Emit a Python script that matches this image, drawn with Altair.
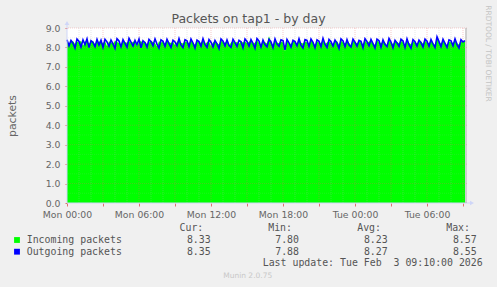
import altair as alt
import pandas as pd

# ---------------- data ----------------
start_hour = 0.0          # Mon 00:00
step_hours = 1.0 / 6.0    # 10 minute samples
x_end_hour = 33.333

incoming = [
    8.31, 8.22, 8.27, 8.33, 8.18, 8.30, 8.25, 8.34, 8.09, 8.29, 8.32, 8.20, 8.28, 8.35, 8.16, 8.24, 8.31, 8.27, 8.21, 8.33, 8.06, 8.30, 8.26, 8.19, 8.34, 8.28, 8.23, 8.12, 8.32, 8.27,
    8.24, 8.36, 8.20, 8.29, 8.31, 8.08, 8.27, 8.33, 8.22, 8.30, 8.17, 8.25, 8.34, 8.28, 8.21, 8.05, 8.32, 8.26, 8.30, 8.19, 8.35, 8.27, 8.23, 8.31, 8.11, 8.29, 8.33, 8.24, 8.20, 8.30,
    8.28, 8.21, 8.35, 8.26, 8.14, 8.31, 8.29, 8.23, 8.37, 8.18, 8.27, 8.32, 8.07, 8.25, 8.30, 8.22, 8.16, 8.34, 8.28, 8.24, 8.31, 8.10, 8.26, 8.33, 8.21, 8.29, 8.19, 8.32, 8.25, 8.30,
    8.22, 8.29, 8.33, 8.17, 8.26, 8.36, 8.24, 8.13, 8.31, 8.27, 8.20, 8.57, 8.28, 8.09, 8.33, 8.25, 8.21, 8.30, 8.26, 7.80, 8.32, 8.23, 8.18, 8.29, 8.34, 8.15, 8.37, 8.24, 8.20, 8.31,
    8.27, 8.19, 8.34, 8.28, 8.12, 8.30, 8.25, 8.22, 8.40, 8.18, 8.26, 8.32, 8.21, 8.08, 8.29, 8.33, 8.15, 8.35, 8.27, 8.20, 8.31, 8.24, 8.11, 8.33, 8.28, 8.22, 8.30, 8.25, 8.17, 8.36,
    8.23, 8.30, 8.32, 8.19, 8.14, 8.34, 8.29, 8.21, 8.31, 8.26, 8.10, 8.37, 8.24, 8.18, 8.30, 8.28, 8.22, 8.33, 8.27, 8.07, 8.35, 8.23, 8.16, 8.31, 8.25, 8.20, 8.29, 8.32, 8.19, 8.34,
    8.26, 8.21, 8.33, 8.24, 8.13, 8.48, 8.28, 8.19, 8.34, 8.22, 8.11, 8.30, 8.27, 8.23, 8.36, 8.20, 8.15, 8.31, 8.29, 8.33,
]

outgoing = [
    8.40, 8.08, 8.36, 8.22, 7.97, 8.43, 8.31, 8.02, 8.39, 8.15, 8.44, 7.99, 8.35, 8.26, 8.04, 8.41, 8.12, 8.37, 8.00, 8.42, 8.29, 8.06, 8.38, 8.18, 7.95, 8.45, 8.33, 8.03, 8.40, 8.21,
    8.01, 8.47, 8.27, 8.07, 8.36, 8.14, 8.43, 7.98, 8.34, 8.24, 8.02, 8.41, 8.30, 8.09, 8.44, 8.17, 7.96, 8.39, 8.32, 8.05, 8.42, 8.20, 8.00, 8.37, 8.28, 8.08, 8.46, 8.13, 7.99, 8.40,
    8.34, 8.04, 8.43, 8.23, 7.97, 8.38, 8.30, 8.06, 8.45, 8.16, 8.01, 8.41, 8.27, 8.03, 8.36, 8.19, 7.94, 8.44, 8.32, 8.08, 8.39, 8.11, 8.00, 8.42, 8.25, 8.05, 8.37, 8.29, 7.98, 8.43,
    8.31, 8.07, 8.40, 8.21, 7.96, 8.46, 8.33, 8.02, 8.38, 8.15, 8.03, 8.42, 8.28, 7.99, 8.44, 8.18, 8.06, 8.39, 8.35, 7.88, 8.41, 8.24, 8.01, 8.37, 8.30, 8.09, 8.45, 8.12, 7.97, 8.40,
    8.36, 8.05, 8.43, 8.26, 7.98, 8.39, 8.32, 8.04, 8.47, 8.17, 8.00, 8.41, 8.29, 8.07, 8.38, 8.22, 7.95, 8.44, 8.34, 8.03, 8.40, 8.13, 8.02, 8.42, 8.27, 8.06, 8.36, 8.31, 7.99, 8.45,
    8.30, 8.08, 8.41, 8.20, 7.97, 8.43, 8.35, 8.01, 8.39, 8.16, 8.04, 8.46, 8.28, 7.98, 8.37, 8.23, 8.05, 8.42, 8.33, 8.00, 8.44, 8.14, 7.96, 8.40, 8.29, 8.07, 8.38, 8.25, 8.02, 8.43,
    8.32, 8.06, 8.41, 8.19, 7.99, 8.55, 8.30, 8.04, 8.42, 8.21, 8.01, 8.39, 8.34, 8.08, 8.44, 8.16, 7.97, 8.40, 8.28, 8.35,
]

x_label_hours = [0, 6, 12, 18, 24, 30]
x_labels = ["Mon 00:00", "Mon 06:00", "Mon 12:00", "Mon 18:00", "Tue 00:00", "Tue 06:00"]
x_tick_hours = list(range(0, 34, 3))
x_minor_hours = list(range(1, 34))
y_ticks = [0, 1, 2, 3, 4, 5, 6, 7, 8, 9]
y_minor = [0.5, 1.5, 2.5, 3.5, 4.5, 5.5, 6.5, 7.5, 8.5]

title_text = "Packets on tap1 - by day"
y_title = "packets"
side_text = "RRDTOOL / TOBI OETIKER"
legend_names = ["Incoming packets", "Outgoing packets"]
legend_colors = ["#00ff00", "#0000ff"]
col_headers = ["Cur:", "Min:", "Avg:", "Max:"]
cur_vals = ["8.33", "8.35"]
min_vals = ["7.80", "7.88"]
avg_vals = ["8.23", "8.27"]
max_vals = ["8.57", "8.55"]
last_update = "Last update: Tue Feb \u00a03 09:10:00 2026"
footer = "Munin 2.0.75"

# ---------------- layout ----------------
W, H = 400, 175
PAD = {"left": 67, "top": 28, "right": 30, "bottom": 84}
FONT = "DejaVu Sans"
MONO = "DejaVu Sans Mono"
TXT = "#666666"
AXIS_COL = "#CFD6F8"

hours = [start_hour + i * step_hours for i in range(len(incoming))]
df = pd.DataFrame({"hour": hours, "incoming": incoming, "outgoing": outgoing})

xscale = alt.Scale(domain=[0, x_end_hour], nice=False, zero=False)
yscale = alt.Scale(domain=[0, 9], nice=False, zero=False)

expr = ""
for h, lab in zip(x_label_hours, x_labels):
    expr += f"datum.value == {h} ? '{lab}' : "
expr += "''"

x_axis = alt.Axis(values=x_tick_hours, labelExpr=expr, title=None, domain=False, grid=False,
                  ticks=True, tickColor="#e07070", tickSize=3, labelFont=FONT, labelFontSize=9.3,
                  labelColor=TXT, labelPadding=4, labelFlush=False, labelOverlap=False)
y_axis = alt.Axis(values=y_ticks, format=".1f", title=y_title, domain=False, grid=False,
                  ticks=True, tickColor="#e07070", tickSize=2, labelFont=FONT, labelFontSize=9.3,
                  labelColor=TXT, labelPadding=5, titleFont=FONT, titleFontSize=10.8,
                  titleColor=TXT, titleFontWeight="normal", titleAngle=270, titleX=-55,
                  titleY=H / 2, titleAlign="center", titleBaseline="middle")

area = alt.Chart(df).mark_area(color="#00ff00", opacity=1, interpolate="linear").encode(
    x=alt.X("hour:Q", scale=xscale, axis=x_axis),
    y=alt.Y("incoming:Q", scale=yscale, axis=y_axis),
)

def vrules(vals, color, opacity):
    return alt.Chart(pd.DataFrame({"v": vals})).mark_rule(
        color=color, opacity=opacity, strokeDash=[1, 1], strokeWidth=1).encode(
        x=alt.X("v:Q", scale=xscale, axis=x_axis))

def hrules(vals, color, opacity):
    return alt.Chart(pd.DataFrame({"v": vals})).mark_rule(
        color=color, opacity=opacity, strokeDash=[1, 1], strokeWidth=1).encode(
        y=alt.Y("v:Q", scale=yscale, axis=y_axis))

minor_x = [h for h in x_minor_hours if h % 3 != 0]
major_x = [h for h in x_tick_hours if h > 0]
g1 = vrules(minor_x, "#b0b0b0", 0.3)
g2 = hrules(y_minor, "#b0b0b0", 0.15)
g3 = vrules(major_x, "#e06060", 0.35)
g4 = hrules(y_ticks[1:], "#e06060", 0.3)

line = alt.Chart(df).mark_line(color="#0000ff", strokeWidth=1.6, interpolate="linear").encode(
    x=alt.X("hour:Q", scale=xscale, axis=x_axis),
    y=alt.Y("outgoing:Q", scale=yscale, axis=y_axis),
)

one = pd.DataFrame({"_": [0]})

def deco_rule(x1, x2, y1, y2, color, width=1):
    return alt.Chart(one).mark_rule(color=color, strokeWidth=width).encode(
        x=alt.value(x1), x2=alt.value(x2), y=alt.value(y1), y2=alt.value(y2))

left_axis = deco_rule(0, 0, H, -4, AXIS_COL)
bottom_axis = deco_rule(0, W + 4, H, H, AXIS_COL)
right_edge = deco_rule(W - 1, W - 1, 0, H, "#a0a0a0")

arrow_up = alt.Chart(one).mark_point(shape="triangle-up", filled=True, color=AXIS_COL, size=22, opacity=1).encode(
    x=alt.value(0), y=alt.value(-5))
arrow_right = alt.Chart(one).mark_point(shape="triangle-right", filled=True, color=AXIS_COL, size=22, opacity=1).encode(
    x=alt.value(W + 5), y=alt.value(H))

def txt(s, x, y, size, color, font=FONT, align="left", baseline="middle", angle=0):
    kw = dict(text=s, fontSize=size, color=color, font=font, align=align, baseline=baseline)
    if angle:
        kw["angle"] = angle
    return alt.Chart(one).mark_text(**kw).encode(x=alt.value(x), y=alt.value(y))

layers = [area, g1, g2, g3, g4, line, left_axis, bottom_axis, right_edge, arrow_up, arrow_right]
layers.append(txt(title_text, 181.5, -9, 12.5, "#555555", align="center"))
layers.append(txt(side_text, 421, 25.5, 7.5, "#c4c4c4", align="center", angle=90))

LCOL = "#555555"
MS = 9.9
header_right = [136.3, 225, 314, 403]
value_right = [143.7, 232, 320.7, 409.7]
for hdr, xr in zip(col_headers, header_right):
    layers.append(txt(hdr, xr, 199.7, MS, LCOL, font=MONO, align="right"))
row_y = [212, 223.7]
for i, name in enumerate(legend_names):
    yy = row_y[i]
    layers.append(alt.Chart(one).mark_square(color=legend_colors[i], size=34, opacity=1).encode(
        x=alt.value(-50), y=alt.value(yy)))
    layers.append(txt(name, -40.3, yy, MS, LCOL, font=MONO))
    for vals, xr in zip([cur_vals, min_vals, avg_vals, max_vals], value_right):
        layers.append(txt(vals[i], xr, yy, MS, LCOL, font=MONO, align="right"))
layers.append(txt(last_update, 415.7, 235.3, MS, LCOL, font=MONO, align="right"))
layers.append(txt(footer, 180.7, 248, 7.5, "#c8c8c8", align="center"))

chart = alt.layer(*layers).properties(
    width=W, height=H, padding=PAD,
    autosize=alt.AutoSizeParams(type="none"),
    background="#f0f0f0",
).configure_view(fill="#ffffff", strokeWidth=0)

chart.save("out.html", embed_options={"renderer": "svg", "actions": False})
